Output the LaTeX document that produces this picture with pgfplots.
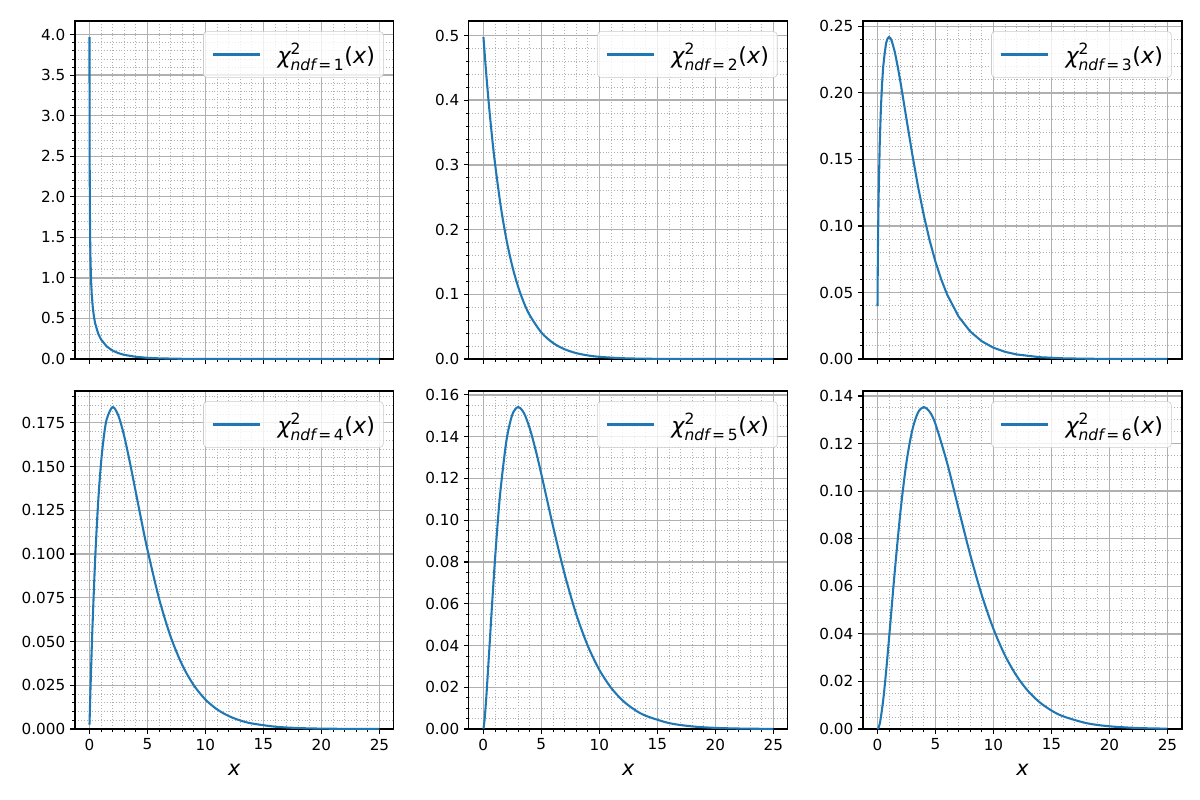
\documentclass[border=0pt]{standalone}
\usepackage{fontspec}
\setmainfont{DejaVu Sans}
\usepackage{amsmath}
\usepackage{pgfplots}
\pgfplotsset{compat=1.18}
\definecolor{mplblue}{HTML}{1F77B4}
\definecolor{gridc}{HTML}{B0B0B0}
\pgfplotsset{
  chi/.style={
    anchor=south west, scale only axis, width=230.5pt, height=244.3pt,
    xmin=-1.2395, xmax=26.2495, ymin=0,
    xtick={0,5,10,15,20,25}, minor x tick num=4,
    scaled ticks=false,
    tick pos=left, tick align=outside,
    major tick length=3.5pt, minor tick length=2pt,
    every major tick/.append style={black, line width=0.8pt},
    every minor tick/.append style={black, line width=0.6pt},
    grid=both,
    major grid style={gridc, line width=1pt},
    minor grid style={gridc, line width=0.6pt, dash pattern=on 0.7pt off 1.4pt},
    axis line style={line width=0.8pt},
    tick label style={font=\fontsize{11}{13}\selectfont},
    /pgf/number format/assume math mode=true,
    legend style={at={(1,1)}, anchor=north east, xshift=-7.5pt, yshift=-7.5pt,
      draw=black!20, rounded corners=2.5pt, fill=white, fill opacity=0.8,
      draw opacity=1, text opacity=1, font=\fontsize{16}{19}\selectfont,
      inner xsep=6pt, inner ysep=8.5pt, column sep=12pt,
      nodes={inner sep=0pt}},
    legend cell align=left,
    legend image code/.code={\draw[mplblue, line width=1.5pt] (0pt,0pt) -- (34pt,0pt);},
    xlabel style={font=\fontsize{15}{18}\selectfont, yshift=-3pt},
  },
  top/.style={xticklabels={}},
  bot/.style={xlabel={\textit{x}}},
  curve/.style={mplblue, line width=1.5pt, no markers},
}
\begin{document}
\begin{tikzpicture}
\useasboundingbox (0,0) rectangle (867.24pt,578.16pt);
% ndf = 1
\begin{axis}[chi, top, at={(54.2pt,318.7pt)}, ymax=4.168, ytick distance=0.5, minor y tick num=4,
  yticklabel style={/pgf/number format/fixed, /pgf/number format/fixed zerofill, /pgf/number format/precision=1}]
\addplot[curve] coordinates {(0.01,3.9695)(0.015,3.2330)(0.02,2.7929)(0.03,2.2690)(0.05,1.7401)(0.075,1.4031)(0.1,1.2000)(0.15,0.9556)(0.2,0.8072)(0.3,0.6269)(0.4,0.5164)(0.5,0.4394)(0.75,0.3166)(1,0.2420)(1.5,0.1539)(2,0.1038)(2.5,0.07229)(3,0.0514)(4,0.0270)(5,0.01465)(6,0.00811)(8,0.002583)(10,0.000850)(12,0.000285)(15,0.000057)(20,0.000004)(25,0.0000003)};
\addlegendentry{$\text{\itshape χ}^{\text{2}}_{\text{\itshape ndf}\text{\,=\,1}}\text{(\itshape x\/\upshape)}$}
\end{axis}
% ndf = 2
\begin{axis}[chi, top, at={(338.9pt,318.7pt)}, ymax=0.5224, ytick distance=0.1, minor y tick num=4,
  yticklabel style={/pgf/number format/fixed, /pgf/number format/fixed zerofill, /pgf/number format/precision=1}]
\addplot[curve, smooth] coordinates {(0.01,0.4975)(0.25,0.4412)(0.5,0.3894)(0.75,0.34364)(1,0.30327)(1.5,0.23618)(2,0.18394)(2.5,0.14325)(3,0.11157)(3.5,0.086887)(4,0.067668)(5,0.041042)(6,0.024894)(7,0.015099)(8,0.009158)(9,0.005554)(10,0.003369)(12,0.001239)(14,0.000456)(16,0.000168)(18,0.0000617)(20,0.0000227)(22.5,0.0000065)(25,0.0000019)};
\addlegendentry{$\text{\itshape χ}^{\text{2}}_{\text{\itshape ndf}\text{\,=\,2}}\text{(\itshape x\/\upshape)}$}
\end{axis}
% ndf = 3
\begin{axis}[chi, top, at={(623.7pt,318.7pt)}, ymax=0.25407, ytick distance=0.05, minor y tick num=4,
  yticklabel style={/pgf/number format/fixed, /pgf/number format/fixed zerofill, /pgf/number format/precision=2}]
\addplot[curve] coordinates {(0.01,0.0397)(0.02,0.05586)(0.05,0.08700)(0.1,0.12000)(0.2,0.16144)(0.3,0.18807)(0.4,0.20654)(0.5,0.21969)(0.625,0.22965)(0.75,0.23745)(0.875,0.24076)(1,0.24197)(1.125,0.24112)(1.25,0.23874)(1.5,0.23080)(1.75,0.21978)(2,0.20755)(2.5,0.18072)(3,0.15418)(3.5,0.12970)(4,0.10798)(4.5,0.08920)(5,0.07322)(5.5,0.05985)(6,0.04865)(7,0.03187)(8,0.02067)(9,0.01330)(10,0.00850)(11,0.00540)(12,0.003426)(14,0.001361)(16,0.000535)(18,0.000208)(20,0.000081)(22.5,0.000028)(25,0.0000074)};
\addlegendentry{$\text{\itshape χ}^{\text{2}}_{\text{\itshape ndf}\text{\,=\,3}}\text{(\itshape x\/\upshape)}$}
\end{axis}
% ndf = 4
\begin{axis}[chi, bot, at={(54.2pt,51.3pt)}, ymax=0.19313, ytick distance=0.025, minor y tick num=4,
  yticklabel style={/pgf/number format/fixed, /pgf/number format/fixed zerofill, /pgf/number format/precision=3}]
\addplot[curve, smooth] coordinates {(0.01,0.002488)(0.1,0.02378)(0.25,0.05516)(0.5,0.09735)(0.75,0.12887)(1,0.15163)(1.25,0.16727)(1.5,0.17714)(2,0.18394)(2.5,0.17907)(3,0.16735)(3.5,0.15205)(4,0.13534)(4.5,0.11857)(5,0.10261)(6,0.07468)(7,0.05284)(8,0.03663)(9,0.02500)(10,0.01685)(11,0.01124)(12,0.00744)(13,0.00488)(14,0.00319)(16,0.00134)(18,0.000554)(20,0.000227)(22.5,0.000073)(25,0.0000233)};
\addlegendentry{$\text{\itshape χ}^{\text{2}}_{\text{\itshape ndf}\text{\,=\,4}}\text{(\itshape x\/\upshape)}$}
\end{axis}
% ndf = 5
\begin{axis}[chi, bot, at={(338.9pt,51.3pt)}, ymax=0.16189, ytick distance=0.02, minor y tick num=3,
  yticklabel style={/pgf/number format/fixed, /pgf/number format/fixed zerofill, /pgf/number format/precision=2}]
\addplot[curve, smooth] coordinates {(0.01,0.000132)(0.1,0.00400)(0.25,0.01467)(0.5,0.03662)(0.75,0.05936)(1,0.08066)(1.25,0.09948)(1.5,0.11540)(2,0.13837)(2.5,0.15060)(3,0.15418)(3.5,0.15131)(4,0.14398)(4.5,0.13380)(5,0.12204)(6,0.09730)(7,0.07437)(8,0.05511)(9,0.03989)(10,0.02833)(11,0.01983)(12,0.01370)(13,0.00937)(14,0.00635)(16,0.00285)(18,0.00125)(20,0.00054)(22.5,0.000185)(25,0.000062)};
\addlegendentry{$\text{\itshape χ}^{\text{2}}_{\text{\itshape ndf}\text{\,=\,5}}\text{(\itshape x\/\upshape)}$}
\end{axis}
% ndf = 6
\begin{axis}[chi, bot, at={(623.7pt,51.3pt)}, ymax=0.14210, ytick distance=0.02, minor y tick num=3,
  yticklabel style={/pgf/number format/fixed, /pgf/number format/fixed zerofill, /pgf/number format/precision=2}]
\addplot[curve, smooth] coordinates {(0.01,0.0000062)(0.1,0.000595)(0.25,0.003447)(0.5,0.012169)(0.75,0.024162)(1,0.037908)(1.25,0.052271)(1.5,0.066427)(2,0.091970)(2.5,0.111916)(3,0.125511)(3.5,0.133046)(4,0.135335)(4.5,0.133396)(5,0.128258)(6,0.112021)(7,0.092478)(8,0.073264)(9,0.056239)(10,0.042113)(11,0.030908)(12,0.022311)(13,0.015876)(14,0.011172)(15,0.007777)(16,0.00536)(18,0.00249)(20,0.001135)(22.5,0.000412)(25,0.000146)};
\addlegendentry{$\text{\itshape χ}^{\text{2}}_{\text{\itshape ndf}\text{\,=\,6}}\text{(\itshape x\/\upshape)}$}
\end{axis}
\end{tikzpicture}
\end{document}
